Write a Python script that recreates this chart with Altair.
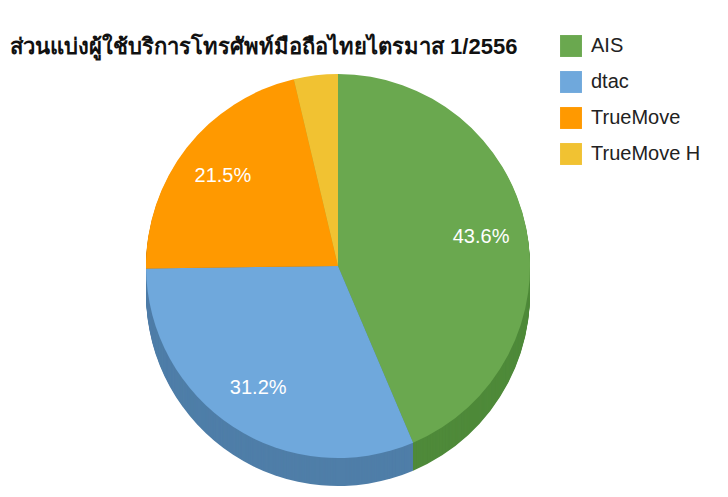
import altair as alt
import pandas as pd

operators = ["AIS", "dtac", "TrueMove", "TrueMove H"]
shares = [43.6, 31.2, 21.5, 3.7]
labels = ["43.6%", "31.2%", "21.5%", ""]
top_colors = ["#6aa84f", "#6fa8dc", "#ff9900", "#f1c232"]
side_colors = ["#4f8a3a", "#4f7ea8", "#c27400", "#b8921f"]
title_text = "ส่วนแบ่งผู้ใช้บริการโทรศัพท์มือถือไทยไตรมาส 1/2556"

FONT = "Liberation Sans, Arial, sans-serif"
CX, CY, R, DEPTH = 330, 208, 192, 28

df = pd.DataFrame({"op": operators, "share": shares, "idx": list(range(len(operators))), "label": labels})

theta_scale = alt.Scale(domain=[0, 100])

base = alt.Chart(df).transform_stack(
    stack="share", as_=["s0", "s1"], groupby=[], sort=[alt.SortField("idx")]
).transform_calculate(mid="(datum.s0 + datum.s1) / 2")

# extruded side of the 3D pie: darker copies of the pie stacked downward
side_layers = [
    base.mark_arc(radius=R).encode(
        theta=alt.Theta("s0:Q", scale=theta_scale),
        theta2="s1:Q",
        color=alt.Color("op:N", scale=alt.Scale(domain=operators, range=side_colors), legend=None),
        x=alt.value(CX),
        y=alt.value(CY + off),
    )
    for off in range(DEPTH, 0, -1)
]

top = base.mark_arc(radius=R).encode(
    theta=alt.Theta("s0:Q", scale=theta_scale),
    theta2="s1:Q",
    color=alt.Color(
        "op:N",
        scale=alt.Scale(domain=operators, range=top_colors),
        legend=alt.Legend(
            title=None,
            orient="none",
            legendX=552,
            legendY=-23,
            symbolType="square",
            symbolSize=480,
            symbolStrokeWidth=0,
            labelFontSize=20,
            labelFont=FONT,
            labelColor="#222222",
            labelOffset=9,
            rowPadding=14,
            padding=0,
        ),
    ),
    x=alt.value(CX),
    y=alt.value(CY),
)

text = base.mark_text(radius=146, fontSize=20, font=FONT, color="white").encode(
    theta=alt.Theta("mid:Q", scale=theta_scale),
    text="label:N",
    x=alt.value(CX),
    y=alt.value(CY),
)

chart = (
    alt.layer(*side_layers, top, text)
    .resolve_scale(color="independent")
    .properties(
        width=712,
        height=431,
        padding={"left": 0, "top": 50, "right": 0, "bottom": 0},
        autosize=alt.AutoSizeParams(type="none"),
        background="white",
        title=alt.TitleParams(
            title_text,
            anchor="start",
            frame="group",
            font=FONT,
            fontSize=22,
            fontWeight="bold",
            color="#111111",
            offset=4,
            dx=2,
            dy=28,
        ),
    )
    .configure_view(stroke=None)
)

chart.save("out.html", embed_options={"renderer": "svg", "actions": False})
